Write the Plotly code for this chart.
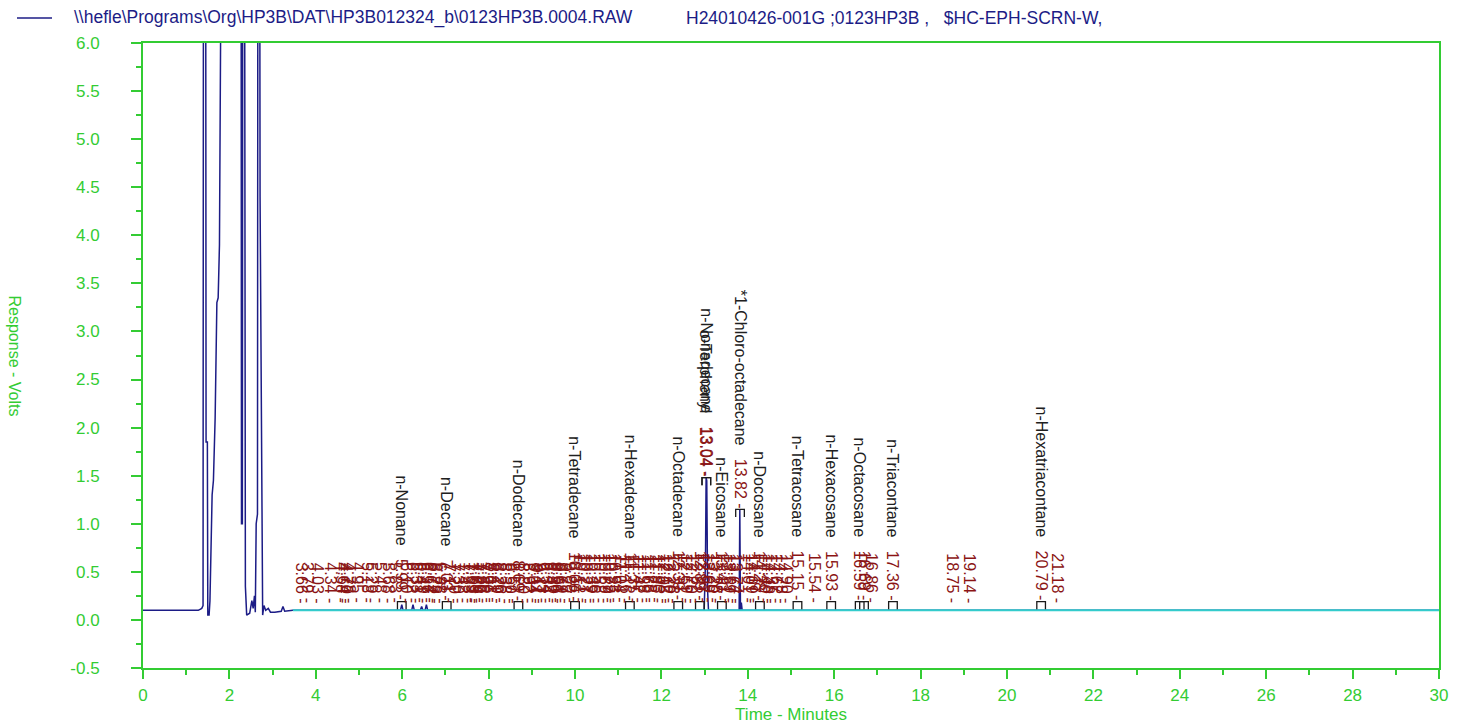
import plotly.graph_objects as go

# ---------------- data ----------------
file_name = r"\\hefle\Programs\Org\HP3B\DAT\HP3B012324_b\0123HP3B.0004.RAW"
sample_info = "H24010426-001G ;0123HP3B ,\u00a0\u00a0\u00a0$HC-EPH-SCRN-W,"

# chromatogram (minutes, volts); values above 6 are off-scale solvent peaks
time_min = [0.00, 1.28, 1.36, 1.39, 1.40, 1.45, 1.46, 1.49, 1.50, 1.53, 1.55, 1.60, 1.63,
            1.67, 1.71, 1.74, 1.77, 1.82, 2.27, 2.28, 2.30, 2.31, 2.35, 2.37, 2.40, 2.47,
            2.52, 2.55, 2.58, 2.60, 2.62, 2.65, 2.66, 2.70, 2.71, 2.74, 2.77, 2.80, 2.84,
            2.90, 2.95, 3.05, 3.20, 3.24, 3.28, 3.47, 5.96, 5.99, 6.02, 6.22, 6.25, 6.28,
            6.42, 6.45, 6.48, 6.53, 6.56, 6.59, 12.99, 13.02, 13.035, 13.05, 13.07, 13.09,
            13.80, 13.815, 13.83, 13.85, 13.87, 30.00]
response_v = [0.10, 0.10, 0.12, 0.15, 8.00, 8.00, 1.85, 1.85, 0.05, 0.05, 0.20, 1.30, 1.45,
              2.10, 3.30, 3.35, 3.90, 8.00, 8.00, 1.00, 1.00, 8.00, 8.00, 0.35, 0.05, 0.07,
              0.20, 0.12, 0.25, 0.08, 1.00, 1.10, 8.00, 8.00, 4.40, 2.00, 0.05, 0.15, 0.10,
              0.12, 0.08, 0.08, 0.09, 0.14, 0.09, 0.10, 0.10, 0.16, 0.10, 0.10, 0.16, 0.10,
              0.10, 0.14, 0.10, 0.10, 0.16, 0.10, 0.10, 0.60, 1.48, 1.45, 0.30, 0.10,
              0.10, 1.15, 0.10, 0.18, 0.10, 0.10]

# fitted baseline
baseline_start = 3.47
baseline_end = 30.0
baseline_level = 0.10

# identified peaks
named_rt = [5.99, 7.03, 8.69, 10.00, 11.27, 12.39, 12.89, 13.04, 13.04, 13.40, 13.82,
            14.28, 15.15, 15.93, 16.59, 16.69, 17.36, 20.79]
named_names = ["n-Nonane", "n-Decane", "n-Dodecane", "n-Tetradecane", "n-Hexadecane",
               "n-Octadecane", "", "n-Nonadecane", "o-Terphenyl", "n-Eicosane",
               "*1-Chloro-octadecane", "n-Docosane", "n-Tetracosane", "n-Hexacosane",
               "n-Octacosane", "", "n-Triacontane", "n-Hexatriacontane"]
named_height = [0.19, 0.19, 0.19, 0.19, 0.19, 0.19, 0.19, 1.48, 1.48, 0.19, 1.15,
                0.19, 0.19, 0.19, 0.19, 0.19, 0.19, 0.19]

# other integrated peaks (retention times)
other_rt = [3.66, 3.79, 4.03, 4.34, 4.58, 4.64, 4.70, 4.78, 4.95, 5.18, 5.29, 5.48, 5.68,
            5.83, 6.10, 6.22, 6.33, 6.41, 6.49, 6.57, 6.64, 6.72, 6.76, 6.88, 7.11, 7.20,
            7.30, 7.42, 7.53, 7.59, 7.63, 7.69, 7.74, 7.80, 7.88, 7.96, 8.03, 8.11, 8.20,
            8.26, 8.38, 8.50, 8.57, 8.80, 8.92, 9.04, 9.11, 9.17, 9.23, 9.34, 9.42, 9.50,
            9.56, 9.61, 9.69, 9.77, 9.88, 10.12, 10.21, 10.27, 10.39, 10.46, 10.58, 10.69,
            10.77, 10.85, 10.93, 11.04, 11.16, 11.35, 11.47, 11.58, 11.66, 11.75, 11.85,
            11.93, 12.05, 12.12, 12.20, 12.28, 12.51, 12.59, 12.70, 12.82, 12.97, 13.09,
            13.20, 13.28, 13.51, 13.59, 13.67, 13.74, 14.01, 14.09, 14.17, 14.40, 14.48,
            14.55, 14.67, 14.78, 14.90, 15.54, 16.86, 18.75, 19.14, 21.18]

x_ticks = list(range(0, 31, 2))
y_ticks = [-0.5, 0.0, 0.5, 1.0, 1.5, 2.0, 2.5, 3.0, 3.5, 4.0, 4.5, 5.0, 5.5, 6.0]

# ---------------- style ----------------
GREEN = "#33CC33"
NAVY = "#1C1C86"
TEAL = "#33CCCC"
RED = "#8B1414"
FONT = "Liberation Sans"
ML, MR, MT, MB = 143, 22, 43, 58
PW, PH = 1461 - ML - MR, 726 - MT - MB


def px_x(px):
    return (px - ML) / PW


def px_y(py):
    return 1 + (MT - py) / PH


fig = go.Figure()

fig.add_trace(go.Scatter(x=time_min, y=response_v, mode="lines", name=file_name,
                         line=dict(color=NAVY, width=1.5), showlegend=False,
                         hoverinfo="x+y"))
fig.add_trace(go.Scatter(x=[baseline_start, baseline_end],
                         y=[baseline_level, baseline_level], mode="lines",
                         line=dict(color=TEAL, width=2), showlegend=False))

# peak brackets
half_w = 0.1
bx, by = [], []
for rt, h in zip(named_rt, named_height):
    bx += [rt - half_w, rt - half_w, rt + half_w, rt + half_w, None]
    by += [h - 0.08, h, h, h - 0.08, None]
fig.add_trace(go.Scatter(x=bx, y=by, mode="lines", line=dict(color="#1A1A1A", width=1.3),
                         showlegend=False, hoverinfo="skip"))

annotations = []
lab_font = dict(family=FONT, size=16, color=RED)
for rt in other_rt:
    annotations.append(dict(x=rt, y=baseline_level, xref="x", yref="y",
                            text=f"{rt:.2f} -", textangle=90, showarrow=False,
                            xanchor="center", yanchor="bottom", yshift=6,
                            borderpad=0, font=lab_font))
for rt, name, h in zip(named_rt, named_names, named_height):
    num = f"<span style='color:{RED}'>{rt:.2f} -</span>"
    txt = (name + "\u00a0\u00a0\u00a0" + num) if name else num
    annotations.append(dict(x=rt, y=h, xref="x", yref="y", text=txt, textangle=90,
                            showarrow=False, xanchor="center", yanchor="bottom",
                            yshift=0, borderpad=0,
                            font=dict(family=FONT, size=16, color="#202020")))

# header (legend entry) and y title
annotations.append(dict(x=px_x(72), y=px_y(18), xref="paper", yref="paper",
                        text=file_name, showarrow=False, xanchor="left",
                        yanchor="middle", font=dict(family=FONT, size=17.5, color=NAVY)))
annotations.append(dict(x=px_x(684), y=px_y(18), xref="paper", yref="paper",
                        text=sample_info, showarrow=False, xanchor="left",
                        yanchor="middle", font=dict(family=FONT, size=17.5, color=NAVY)))
annotations.append(dict(x=px_x(14), y=0.5, xref="paper", yref="paper",
                        text="Response - Volts", textangle=90, showarrow=False,
                        xanchor="center", yanchor="middle",
                        font=dict(family=FONT, size=16, color=GREEN)))

shapes = [dict(type="line", xref="paper", yref="paper", x0=px_x(17), x1=px_x(52),
               y0=px_y(18), y1=px_y(18), line=dict(color=NAVY, width=1.5))]

fig.update_layout(
    width=1461, height=726,
    margin=dict(l=ML, r=MR, t=MT, b=MB, autoexpand=False),
    paper_bgcolor="white", plot_bgcolor="white",
    font=dict(family=FONT),
    showlegend=False,
    annotations=annotations,
    shapes=shapes,
)
fig.update_xaxes(range=[0, 30], tickvals=x_ticks, ticktext=[str(v) for v in x_ticks],
                 ticks="outside", ticklen=9, tickwidth=2, tickcolor=GREEN,
                 minor=dict(dtick=1, ticks="outside", ticklen=5, tickwidth=2,
                            tickcolor=GREEN),
                 showline=True, linecolor=GREEN, linewidth=2, mirror=True,
                 showgrid=False, zeroline=False,
                 tickfont=dict(family=FONT, size=17, color=GREEN),
                 ticklabelstandoff=2,
                 title=dict(text="Time - Minutes", standoff=4,
                            font=dict(family=FONT, size=17, color=GREEN)))
fig.update_yaxes(range=[-0.5, 6.0], tickvals=y_ticks,
                 ticktext=[f"{v:.1f}" for v in y_ticks],
                 ticks="outside", ticklen=10, tickwidth=2, tickcolor=GREEN,
                 minor=dict(dtick=0.25, ticks="outside", ticklen=5, tickwidth=2,
                            tickcolor=GREEN),
                 showline=True, linecolor=GREEN, linewidth=2, mirror=True,
                 showgrid=False, zeroline=False,
                 tickfont=dict(family=FONT, size=17, color=GREEN),
                 ticklabelstandoff=28)

fig.write_html("out.html",
               config={"displayModeBar": False},
               post_script="document.body.style.margin='0px';"
                           "document.body.style.overflow='hidden';")
